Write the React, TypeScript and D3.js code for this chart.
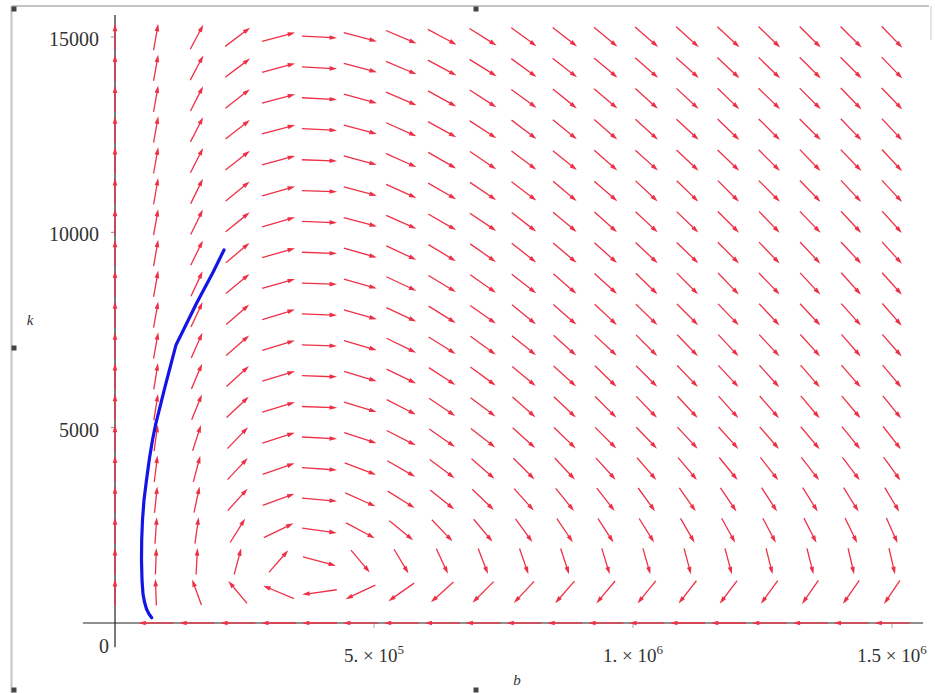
import React from 'react';
import * as d3 from 'd3';

// grid of the direction field (b across, k up)
const bGrid = [0, 78947, 157895, 236842, 315789, 394737, 473684, 552632, 631579, 710526,
  789474, 868421, 947368, 1026316, 1105263, 1184211, 1263158, 1342105, 1421053, 1500000];
const kGrid = [0, 789, 1579, 2368, 3158, 3947, 4737, 5526, 6316, 7105,
  7895, 8684, 9474, 10263, 11053, 11842, 12632, 13421, 14211, 15000];

// arrow direction on screen, degrees (0 = right, 90 = up), row 0 is k = 0
const fieldAngles: (number | null)[][] = [
  [null, 180, 180, 180, 180, 180, 180, 180, 180, 180, 180, 180, 180, 180, 180, 180, 180, 180, 180, 180],
  [90, 92, 110, 130, 157, -172, -155, -145, -138, -135, -133, -131, -130, -129, -128, -127, -126, -125, -125, -124],
  [90, 88, 87, 75, 49, -15, -50, -59, -65, -69, -71, -72, -73, -74, -75, -75, -76, -76, -77, -77],
  [90, 86, 82, 58, 26, -8, -28, -39, -46, -50, -54, -56, -57, -58, -60, -61, -62, -63, -64, -66],
  [90, 84, 78, 48, 20, -5, -24, -32, -39, -44, -48, -51, -52, -54, -55, -56, -57, -58, -58, -59],
  [90, 83, 75, 47, 19, -4, -21, -30, -37, -41, -45, -47, -48, -49, -50, -51, -52, -52, -53, -54],
  [90, 82, 72, 46, 18, -3, -18, -27, -35, -38, -42, -44, -45, -46, -47, -48, -49, -50, -51, -52],
  [90, 81, 68, 43, 17, -2, -17, -27, -34, -37, -41, -43, -45, -46, -47, -48, -49, -50, -50, -51],
  [90, 81, 67, 42, 17, -2, -17, -26, -33, -36, -40, -42, -44, -45, -46, -47, -48, -49, -49, -50],
  [90, 80, 66, 41, 17, -2, -16, -26, -32, -36, -39, -42, -43, -45, -46, -47, -47, -48, -49, -49],
  [90, 80, 65, 41, 17, -2, -16, -25, -32, -35, -39, -41, -43, -44, -45, -46, -47, -47, -48, -49],
  [90, 80, 65, 40, 16, -2, -16, -25, -31, -35, -38, -41, -42, -44, -45, -46, -46, -47, -48, -48],
  [90, 80, 64, 40, 16, -2, -16, -25, -31, -35, -38, -40, -42, -43, -44, -45, -46, -47, -47, -48],
  [90, 80, 64, 39, 16, -2, -15, -24, -30, -34, -38, -40, -42, -43, -44, -45, -46, -46, -47, -48],
  [90, 80, 64, 39, 16, -2, -15, -24, -30, -34, -37, -40, -41, -43, -44, -45, -45, -46, -47, -47],
  [90, 80, 63, 38, 15, -2, -15, -24, -30, -34, -37, -39, -41, -42, -43, -44, -45, -46, -46, -47],
  [90, 80, 63, 38, 15, -3, -15, -24, -29, -33, -37, -39, -41, -42, -43, -44, -45, -45, -46, -47],
  [90, 80, 63, 38, 15, -3, -15, -23, -29, -33, -36, -39, -40, -42, -43, -44, -44, -45, -46, -46],
  [90, 80, 62, 37, 15, -3, -15, -23, -28, -32, -36, -38, -40, -41, -42, -43, -44, -45, -45, -46],
  [90, 80, 62, 37, 15, -3, -15, -23, -28, -32, -36, -38, -40, -41, -42, -43, -44, -45, -45, -46],
];

// solution curve [b, k]
const trajectory: [number, number][] = [
  [70850, 136], [65640, 230], [60810, 358], [56950, 538], [54050, 742], [52120, 1101],
  [51160, 1613], [51540, 2125], [53090, 2637], [55980, 3149], [60810, 3661], [66600, 4224],
  [72390, 4685], [78190, 5069], [96520, 6042], [117760, 7117], [157720, 8192],
  [189770, 8993], [210430, 9549],
];

const kTicks = [5000, 10000, 15000];
const bTicks = [500000, 1000000, 1500000];
const bTickLabels = [['5. × 10', '5'], ['1. × 10', '6'], ['1.5 × 10', '6']];
const viewB = [-62000, 1560000];
const viewK = [-620, 15560];

const W = 935;
const H = 693;
const font = '"Liberation Serif", "DejaVu Serif", serif';
const arrowColor = '#ee3046';

const App = () => {
  const x = d3.scaleLinear().domain([0, 1500000]).range([115, 892]);
  const y = d3.scaleLinear().domain([0, 15000]).range([623, 37]);

  const sx = x(bGrid[1]) - x(bGrid[0]);
  const sy = y(kGrid[0]) - y(kGrid[1]);

  const arrows: JSX.Element[] = [];
  fieldAngles.forEach((row, r) => {
    row.forEach((ang, c) => {
      if (ang === null) return;
      const a = (ang * Math.PI) / 180;
      const ca = Math.cos(a);
      const sa = Math.sin(a);
      const len = 0.86 / Math.sqrt((ca / sx) ** 2 + (sa / sy) ** 2);
      const cx = x(bGrid[c]);
      const cy = y(kGrid[r]);
      const dx = ca;
      const dy = -sa;
      const x0 = cx - (dx * len) / 2;
      const y0 = cy - (dy * len) / 2;
      const x1 = cx + (dx * len) / 2;
      const y1 = cy + (dy * len) / 2;
      const hl = 7.5;
      const hw = 2.3;
      const bx = x1 - dx * hl;
      const by = y1 - dy * hl;
      arrows.push(
        <g key={`${r}-${c}`}>
          <line x1={x0} y1={y0} x2={x1 - dx * 4} y2={y1 - dy * 4} stroke={arrowColor} strokeWidth={1.3} />
          <polygon
            points={`${x1},${y1} ${bx - dy * hw},${by + dx * hw} ${bx + dy * hw},${by - dx * hw}`}
            fill={arrowColor}
          />
        </g>
      );
    });
  });

  const curve = d3.line<[number, number]>()
    .x(d => x(d[0]))
    .y(d => y(d[1]))(trajectory);

  const handles = [[14, 9], [476, 9], [14, 348], [14, 690], [476, 690]];

  return (
    <div style={{ position: 'absolute', left: 0, top: 0 }}>
      <svg width={W} height={H} style={{ display: 'block', background: '#fff' }}>
        {/* selection frame */}
        <line x1={11.5} y1={6} x2={929} y2={6} stroke="#c4c4c4" strokeWidth={2} />
        <line x1={11.5} y1={6} x2={11.5} y2={H} stroke="#c4c4c4" strokeWidth={2} />
        <line x1={931} y1={6} x2={931} y2={40} stroke="#dcdcdc" strokeWidth={1.5} />
        {handles.map((h, i) => (
          <rect key={i} x={h[0] - 2.5} y={h[1] - 2.5} width={5} height={5} fill="#444" />
        ))}

        {/* axes */}
        <line x1={x(viewB[0])} y1={y(0)} x2={x(viewB[1])} y2={y(0)} stroke="#222" strokeWidth={1.2} />
        <line x1={x(0)} y1={y(viewK[0])} x2={x(0)} y2={y(viewK[1])} stroke="#222" strokeWidth={1.2} />
        {kTicks.map(t => (
          <g key={t}>
            <line x1={x(0) - 4} x2={x(0)} y1={y(t)} y2={y(t)} stroke="#888" />
            <text x={99} y={y(t) + 2} textAnchor="end" dominantBaseline="central"
              fontFamily={font} fontSize={20} fill="#333">{t}</text>
          </g>
        ))}
        <text x={109} y={653} textAnchor="end" fontFamily={font} fontSize={20} fill="#333">0</text>
        {bTicks.map((t, i) => (
          <g key={t}>
            <line x1={x(t)} x2={x(t)} y1={y(0)} y2={y(0) + 5} stroke="#aaa" />
            <text x={x(t)} y={662} textAnchor="middle" fontFamily={font} fontSize={19} fill="#333">
              {bTickLabels[i][0]}
              <tspan dy={-8} fontSize={13}>{bTickLabels[i][1]}</tspan>
            </text>
          </g>
        ))}
        <text x={517} y={685} textAnchor="middle" fontFamily={font} fontStyle="italic" fontSize={15} fill="#333">b</text>
        <text x={30} y={325} textAnchor="middle" fontFamily={font} fontStyle="italic" fontSize={15} fill="#333">k</text>

        {/* direction field */}
        <g>{arrows}</g>

        {/* solution curve */}
        <path d={curve || ''} fill="none" stroke="#1414e6" strokeWidth={3.2} strokeLinecap="round" strokeLinejoin="round" />
      </svg>
    </div>
  );
};

export default App;
